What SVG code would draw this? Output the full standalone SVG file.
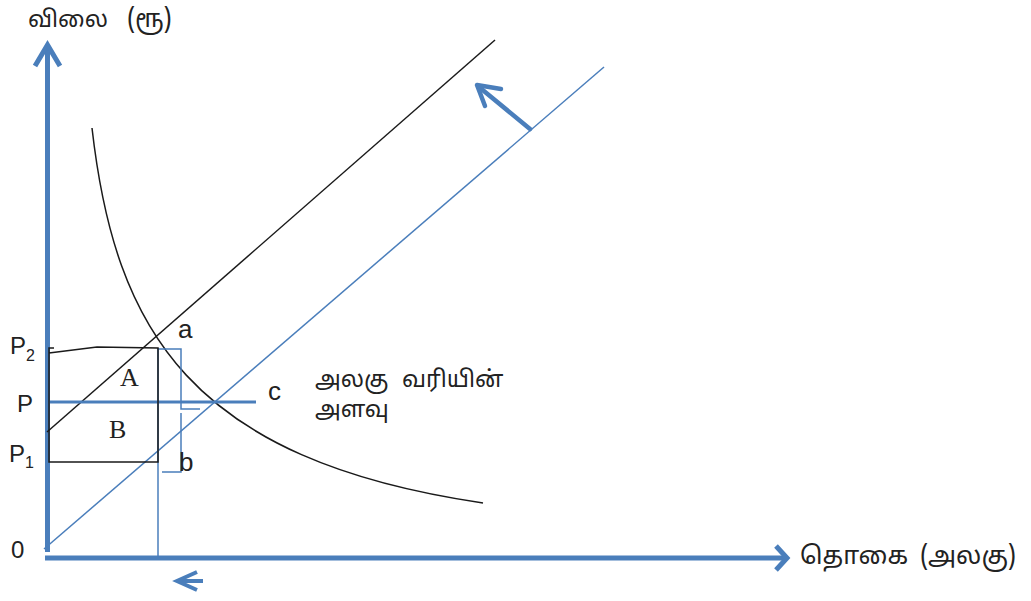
<svg xmlns="http://www.w3.org/2000/svg" width="1031" height="601" viewBox="0 0 1031 601">
<style>
.ax{fill:none;stroke:#4a7ebb;stroke-width:5;stroke-linejoin:miter;stroke-linecap:butt}
.bl{fill:none;stroke:#4a7ebb;stroke-width:1.5}
.bk{fill:none;stroke:#1a1a1a;stroke-width:1.5}
.lat{font-family:"Liberation Sans",Arial,sans-serif;font-size:24px;fill:#222}
.sm{font-family:"Liberation Sans",Arial,sans-serif;font-size:26px;fill:#222}
.ser{font-family:"Liberation Serif","Times New Roman",serif;font-size:26px;fill:#222}
.ta{font-family:"Noto Sans Tamil","Latha","Noto Sans","DejaVu Sans",sans-serif;font-size:23px;fill:#222}
.tb{font-family:"Noto Sans Tamil","Latha","Noto Sans","DejaVu Sans",sans-serif;font-size:25px;fill:#222}
</style>
<rect width="1031" height="601" fill="#fff"/>
<g id="axes">
<line class="ax" x1="47.5" y1="552" x2="47.5" y2="47"/>
<polyline class="ax" points="35,66 47.5,45 60,66"/>
<line class="ax" x1="45" y1="558" x2="784" y2="558"/>
<polyline class="ax" points="776,546 787,558 776,570"/>
</g>
<g id="connectors">
<line class="bl" x1="44" y1="549" x2="604" y2="67"/>
<line class="bk" x1="47" y1="432" x2="495" y2="40"/>
<path class="bk" d="M92,128 C115,330 190,460 483,503"/>
<line x1="48" y1="402" x2="256" y2="402" stroke="#4a7ebb" stroke-width="3"/>
<line class="bl" x1="158" y1="348" x2="158" y2="557"/>
<path class="bl" d="M158,349 H181 V409 H200 M181,413 V472 H162"/>
<polyline class="bk" points="49,353 97,347 158,348 158,462 49,462 49,348 54,348"/>
<g fill="none" stroke="#4a7ebb" stroke-width="4.5" stroke-linecap="round" stroke-linejoin="round">
<line x1="530" y1="129" x2="479" y2="87"/>
<polyline points="501,89 477,85 485,106"/>
</g>
<g fill="none" stroke="#4a7ebb" stroke-width="4" stroke-linejoin="miter">
<line x1="177" y1="581" x2="203" y2="581"/>
<polyline points="197,572 177,581 197,590"/>
</g>
</g>
<g id="labels">
<text class="ta" x="28" y="27">விலை</text>
<text class="tb" x="127" y="27">(ரூ)</text>
<text class="lat" x="10" y="354">P<tspan font-size="16" dy="7">2</tspan></text>
<text class="lat" x="17" y="412">P</text>
<text class="lat" x="9" y="462">P<tspan font-size="16" dy="6">1</tspan></text>
<text class="lat" x="11" y="558">0</text>
<text class="sm" x="178" y="338">a</text>
<text class="ser" x="120" y="386">A</text>
<text class="ser" x="109" y="438">B</text>
<text class="sm" x="268" y="400">c</text>
<text class="sm" x="179" y="471">b</text>
<text class="ta" x="315" y="387">அலகு</text>
<text class="ta" x="402" y="387">வரியின்</text>
<text class="ta" x="315" y="417">அளவு</text>
<text class="tb" x="800" y="564">தொகை</text>
<text class="tb" x="920" y="564">(அலகு)</text>
</g>
</svg>
